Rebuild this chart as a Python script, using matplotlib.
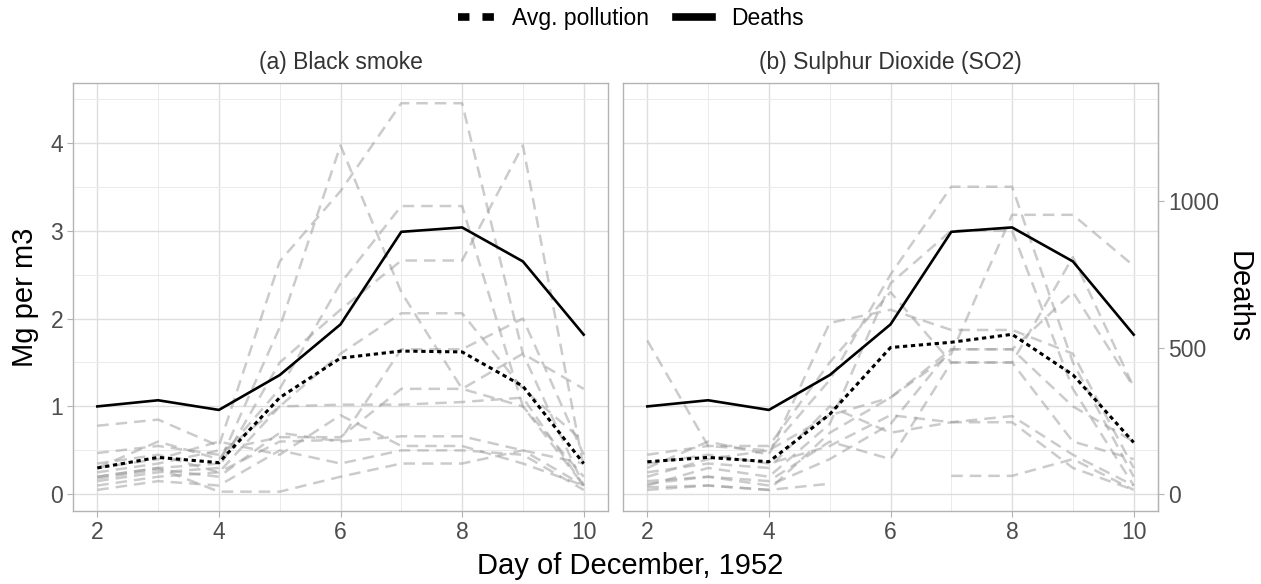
import numpy as np
import matplotlib.pyplot as plt
from matplotlib.lines import Line2D
from matplotlib.ticker import MultipleLocator

plt.rcParams['font.family'] = ['Liberation Sans', 'DejaVu Sans']

days = [2, 3, 4, 5, 6, 7, 8, 9, 10]
nan = np.nan

# deaths per day (right axis)
deaths = [300, 321, 288, 407, 580, 896, 911, 795, 545]
DEATH_SCALE = 300

# average pollution (Mg per m3)
avg_smoke = [0.30, 0.42, 0.36, 1.10, 1.55, 1.63, 1.62, 1.23, 0.35]
avg_so2 = [0.37, 0.42, 0.37, 0.91, 1.67, 1.73, 1.82, 1.36, 0.59]

# individual stations, black smoke
smoke_stations = [
    [0.78, 0.85, 0.55, 2.65, 3.45, 4.45, 4.45, 1.60, 0.10],
    [0.20, 0.30, 0.35, 1.90, 3.97, 2.30, 1.20, 1.00, 0.20],
    [0.15, 0.25, 0.30, 1.50, 2.10, 2.66, 2.66, 3.97, 0.30],
    [0.30, 0.60, 0.40, 1.20, 2.40, 3.28, 3.28, 1.00, 0.10],
    [0.47, 0.55, 0.45, 1.00, 1.60, 2.06, 2.06, 1.20, 0.60],
    [0.35, 0.45, 0.25, 1.00, 1.02, 1.02, 1.05, 1.10, 0.10],
    [0.25, 0.35, 0.50, 0.65, 0.65, 1.20, 1.20, 1.60, 1.20],
    [0.10, 0.20, 0.25, 0.60, 0.62, 1.65, 1.65, 2.00, 0.45],
    [0.18, 0.28, 0.20, 0.70, 0.60, 0.66, 0.66, 0.50, 0.35],
    [0.05, 0.15, 0.10, 0.50, 0.35, 0.50, 0.50, 0.45, 0.05],
    [0.20, 0.30, 0.03, 0.03, 0.20, 0.35, 0.35, 0.50, 0.10],
    [0.30, 0.40, 0.60, 0.45, 0.90, 0.55, 0.55, 0.35, 0.10],
]

# individual stations, SO2
so2_stations = [
    [0.20, 0.40, 0.50, 1.30, 2.50, 3.50, 3.50, 1.50, 0.20],
    [1.75, 0.55, 0.50, 0.90, 1.10, 1.60, 3.18, 3.18, 2.60],
    [0.30, 0.60, 0.45, 1.95, 2.10, 1.87, 1.87, 1.60, 0.30],
    [0.45, 0.55, 0.55, 1.50, 2.30, 1.50, 1.50, 2.70, 1.22],
    [0.10, 0.30, 0.20, 0.80, 2.40, 3.00, 3.00, 1.20, 0.10],
    [0.05, 0.10, 0.05, 0.70, 1.10, 1.65, 1.65, 2.30, 1.22],
    [0.25, 0.35, 0.30, 1.00, 0.70, 0.82, 0.89, 0.45, 0.10],
    [0.15, 0.20, 0.15, 0.60, 0.40, 1.50, 1.50, 0.60, 0.40],
    [0.08, 0.10, 0.05, 0.12, nan, nan, nan, nan, nan],
    [nan, nan, nan, nan, nan, 0.21, 0.21, 0.40, 0.05],
    [0.35, 0.45, 0.35, 0.55, 0.90, 0.82, 0.82, 0.30, 0.05],
    [0.12, 0.20, 0.10, 0.40, 0.80, 1.65, 1.65, 1.00, 0.60],
]

titles = ['(a) Black smoke', '(b) Sulphur Dioxide (SO2)']

fig = plt.figure(figsize=(12.61, 5.84), dpi=100)
ax1 = fig.add_axes([73 / 1261, 1 - 511 / 584, 535 / 1261, 428 / 584])
ax2 = fig.add_axes([623 / 1261, 1 - 511 / 584, 535 / 1261, 428 / 584], sharey=ax1)

tick_col = '#4D4D4D'
for ax, stations, avg, title in [(ax1, smoke_stations, avg_smoke, titles[0]),
                                 (ax2, so2_stations, avg_so2, titles[1])]:
    for st in stations:
        ax.plot(days, st, color='#999999', alpha=0.5, lw=1.8,
                dashes=(4.6, 2.8), zorder=2)
    ax.plot(days, np.array(deaths) / DEATH_SCALE, color='black', lw=1.9, zorder=3)
    ax.plot(days, avg, color='black', lw=2.2, dashes=(1.4, 1.2), zorder=3)

    ax.set_xlim(1.6, 10.4)
    ax.set_ylim(-0.19, 4.68)
    ax.xaxis.set_major_locator(MultipleLocator(2))
    ax.xaxis.set_minor_locator(MultipleLocator(1))
    ax.yaxis.set_major_locator(MultipleLocator(1))
    ax.yaxis.set_minor_locator(MultipleLocator(0.5))
    ax.grid(which='major', color='#DEDEDE', lw=1.0)
    ax.grid(which='minor', color='#EBEBEB', lw=0.7)
    ax.set_axisbelow(True)
    for sp in ax.spines.values():
        sp.set_color('#B3B3B3')
        sp.set_linewidth(1.0)
    ax.tick_params(which='major', length=4, color='#B3B3B3', labelsize=16.5,
                   labelcolor=tick_col, pad=3)
    ax.tick_params(which='minor', length=0)
    ax.set_title(title, fontsize=16.5, color='#333333', pad=10)

ax2.tick_params(axis='y', which='both', left=False, labelleft=False)

sec = ax2.secondary_yaxis('right', functions=(lambda y: y * DEATH_SCALE,
                                               lambda d: d / DEATH_SCALE))
sec.set_yticks([0, 500, 1000])
sec.tick_params(length=4, color='#B3B3B3', labelsize=16.5, labelcolor=tick_col)
sec.spines['right'].set_color('#B3B3B3')
sec.set_ylabel('Deaths', fontsize=21, rotation=270, labelpad=24)

ax1.set_ylabel('Mg per m3', fontsize=21, labelpad=8)
fig.text(0.5, 0.03, 'Day of December, 1952', ha='center', va='center', fontsize=21)

handles = [Line2D([], [], color='black', lw=5.5, dashes=(1.5, 1.7)),
           Line2D([], [], color='black', lw=5.5)]
fig.legend(handles, ['Avg. pollution', 'Deaths'], loc='center',
           bbox_to_anchor=(0.5, 0.968), ncol=2, frameon=False, fontsize=16.5,
           handlelength=1.57, handletextpad=0.8, columnspacing=1.2)

fig.savefig('out.png', dpi=100)
